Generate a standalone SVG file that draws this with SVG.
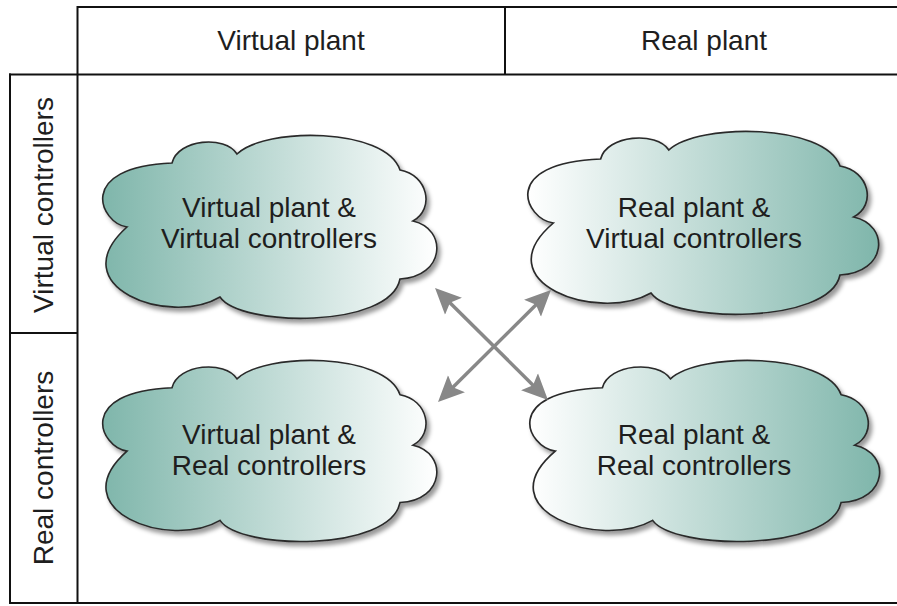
<svg xmlns="http://www.w3.org/2000/svg" xmlns:xlink="http://www.w3.org/1999/xlink" width="897" height="606" viewBox="0 0 897 606">
  <style>
    .grid { stroke: #111; stroke-width: 2; fill: none; }
    .lbl { font-family: "Liberation Sans", Arial, sans-serif; font-size: 28px; fill: #1e1e1e; text-anchor: middle; }
    .cloud { stroke: #2a2a2a; stroke-width: 1.6; }
    .link { stroke: #888; stroke-width: 3.5; fill: none; marker-start: url(#head); marker-end: url(#head); }
  </style>
  <defs>
    <linearGradient id="tealLeft" x1="0" y1="0" x2="1" y2="0">
      <stop offset="0" stop-color="#7fb6ab"/>
      <stop offset="1" stop-color="#ffffff"/>
    </linearGradient>
    <linearGradient id="tealRight" x1="0" y1="0" x2="1" y2="0">
      <stop offset="0" stop-color="#ffffff"/>
      <stop offset="1" stop-color="#7fb6ab"/>
    </linearGradient>
    <filter id="shadow" x="-10%" y="-10%" width="125%" height="130%">
      <feDropShadow dx="3" dy="4" stdDeviation="2" flood-color="#000" flood-opacity="0.4"/>
    </filter>
    <!-- cloud outline, local size about 340 x 180 -->
    <path id="cloudShape" d="M27,90 C0,86 -25,30 72,26 C78,2 125,-2 137,17 C165,-10 285,-10 300,33 C328,38 335,72 313,84 C348,92 345,140 300,142 C290,192 140,190 120,160 C70,190 -40,150 27,90 Z"/>
    <marker id="head" viewBox="0 -13 28 26" markerWidth="28" markerHeight="26" refX="10" refY="0" orient="auto-start-reverse" markerUnits="userSpaceOnUse">
      <path d="M26,0 L0,-12 L5,0 L0,12 Z" fill="#888"/>
    </marker>
  </defs>

  <rect width="897" height="606" fill="#ffffff"/>

  <!-- table frame -->
  <g id="frame">
    <line class="grid" x1="77" y1="7" x2="897" y2="7"/>
    <line class="grid" x1="9" y1="74.5" x2="897" y2="74.5"/>
    <line class="grid" x1="77.5" y1="6" x2="77.5" y2="604"/>
    <line class="grid" x1="10" y1="73.5" x2="10" y2="604"/>
    <line class="grid" x1="9" y1="603" x2="897" y2="603"/>
    <line class="grid" x1="505" y1="6" x2="505" y2="75"/>
    <line class="grid" x1="9" y1="333" x2="78" y2="333"/>
  </g>

  <g id="header-virtual-plant"><text class="lbl" x="291" y="50">Virtual plant</text></g>
  <g id="header-real-plant"><text class="lbl" x="704" y="50">Real plant</text></g>
  <g id="row-virtual-controllers"><text class="lbl" transform="translate(53,205) rotate(-90)">Virtual controllers</text></g>
  <g id="row-real-controllers"><text class="lbl" transform="translate(53,468) rotate(-90)">Real controllers</text></g>

  <g id="cloud-vp-vc">
    <use xlink:href="#cloudShape" class="cloud" fill="url(#tealLeft)" filter="url(#shadow)" transform="translate(100,137)"/>
    <text class="lbl" x="269" y="217">Virtual plant &amp;</text>
    <text class="lbl" x="269" y="248">Virtual controllers</text>
  </g>

  <g id="cloud-rp-vc">
    <use xlink:href="#cloudShape" class="cloud" fill="url(#tealRight)" filter="url(#shadow)" transform="translate(525,133) scale(1.05,1)"/>
    <text class="lbl" x="694" y="217">Real plant &amp;</text>
    <text class="lbl" x="694" y="248">Virtual controllers</text>
  </g>

  <g id="cloud-vp-rc">
    <use xlink:href="#cloudShape" class="cloud" fill="url(#tealLeft)" filter="url(#shadow)" transform="translate(100,362) scale(1,0.99)"/>
    <text class="lbl" x="269" y="444">Virtual plant &amp;</text>
    <text class="lbl" x="269" y="475">Real controllers</text>
  </g>

  <g id="cloud-rp-rc">
    <use xlink:href="#cloudShape" class="cloud" fill="url(#tealRight)" filter="url(#shadow)" transform="translate(527,362) scale(1.047,0.99)"/>
    <text class="lbl" x="694" y="444">Real plant &amp;</text>
    <text class="lbl" x="694" y="475">Real controllers</text>
  </g>

  <!-- crossing double-headed arrows -->
  <g id="connectors">
    <line class="link" x1="446.4" y1="299.3" x2="536.6" y2="388.7"/>
    <line class="link" x1="539.6" y1="301.3" x2="449.4" y2="390.7"/>
  </g>
</svg>
